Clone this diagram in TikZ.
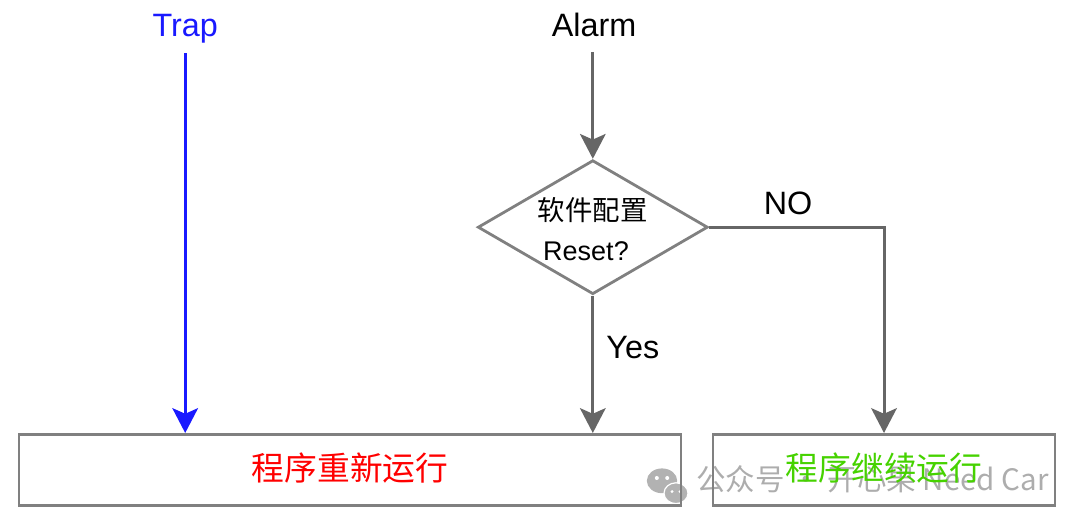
\documentclass[tikz,border=0pt]{standalone}
\usepackage{fontspec}
\setmainfont{Liberation Sans}
\newfontfamily\cjk{Noto Sans CJK SC}
\usetikzlibrary{arrows.meta,positioning,shapes.geometric}
\definecolor{resumegreen}{RGB}{70,210,0}

\begin{document}
\begin{tikzpicture}[x=1.0cm,y=1.0cm]
  \tikzstyle{flow}=[-{Stealth[length=0.62cm,width=0.64cm,inset=0.14cm]},line width=0.075cm,draw=black!60]
  \tikzstyle{box}=[rectangle,draw=black!50,line width=0.07cm,inner sep=0pt]
  \tikzstyle{lbl}=[inner sep=0pt,font=\fontsize{23}{27}\selectfont]
  \tikzstyle{cjklbl}=[inner sep=0pt,font=\cjk\fontsize{23.3}{27}\selectfont]

  \useasboundingbox (0,0) rectangle (27,13.05);

  % watermark
  \fill[black!30] (16.55,1.03) ellipse (0.38 and 0.31);
  \fill[black!30,draw=white,line width=0.03cm] (16.9,0.72) ellipse (0.3 and 0.26);
  \fill[white] (16.42,1.1) circle (0.05) (16.68,1.1) circle (0.05) (16.8,0.76) circle (0.04) (17.0,0.76) circle (0.04);
  \node[inner sep=0pt,text=black!32,font=\cjk\fontsize{21}{24}\selectfont,anchor=west] (mark) at (17.4,1.07) {公众号 · 开心果 Need Car};

  \node[box,minimum width=16.55cm,minimum height=1.78cm] (restart) at (8.75,1.3) {};
  \node[box,minimum width=8.55cm,minimum height=1.78cm] (resume) at (22.1,1.3) {};
  \node[cjklbl,text=red] at (8.75,1.36) {程序重新运行};
  \node[cjklbl,text=resumegreen] at (22.1,1.36) {程序继续运行};

  \node[lbl,text=blue!90!white,anchor=base] (trap) at (4.63,12.13) {Trap};
  \node[lbl,anchor=base] (alarm) at (14.85,12.13) {Alarm};
  \coordinate (trapout) at (4.63,11.72);
  \coordinate (alarmout) at (14.82,11.75);

  \node[diamond,draw=black!50,line width=0.07cm,minimum width=5.75cm,minimum height=3.35cm,inner sep=0pt,aspect=1.72] (reset) at (14.82,7.37) {};
  \node[cjklbl,font=\cjk\fontsize{19.5}{24}\selectfont] (cfg) at (14.82,7.8) {软件配置};
  \node[lbl,font=\fontsize{19.2}{24}\selectfont] (rst) at (14.65,6.78) {Reset?};

  \draw[flow] (alarmout) -- (reset.north);
  \draw[flow] (reset.south) -- (reset.south |- restart.north);
  \draw[flow] (reset.east) -| (resume.north);
  \draw[flow,draw=blue!90!white] (trapout) -- (trapout |- restart.north);

  \node[lbl] at (15.82,4.37) {Yes};
  \node[lbl] at (19.7,7.97) {NO};
\end{tikzpicture}
\end{document}
